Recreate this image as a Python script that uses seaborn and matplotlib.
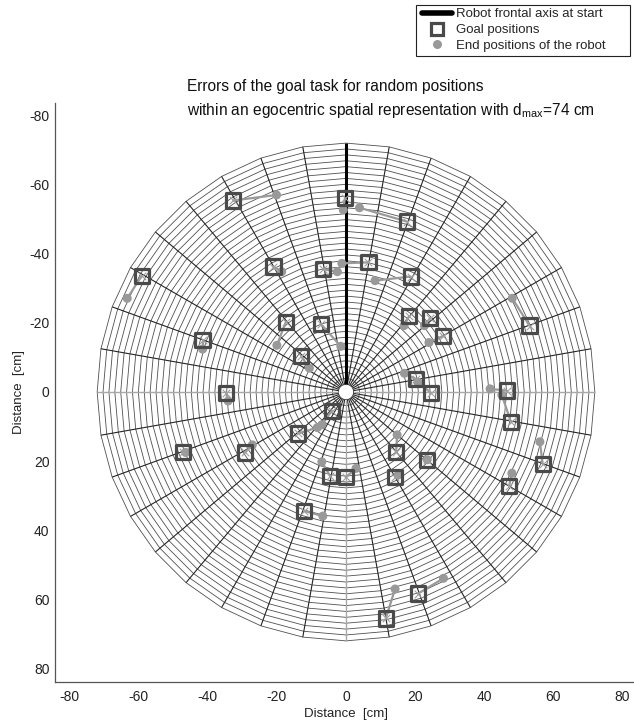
import numpy as np
import pandas as pd
import matplotlib
matplotlib.use("Agg")
import matplotlib.pyplot as plt
import seaborn as sns
from matplotlib.lines import Line2D
from matplotlib.patches import Rectangle
from matplotlib.collections import LineCollection

sns.set_theme(style="white")
plt.rcParams["font.family"] = ["Liberation Sans", "DejaVu Sans"]
plt.rcParams["mathtext.fontset"] = "custom"
plt.rcParams["mathtext.rm"] = "Liberation Sans"
plt.rcParams["mathtext.it"] = "Liberation Sans:italic"
plt.rcParams["axes.unicode_minus"] = False

# ---- data (cm) ----
goal_x = [-59.1, -41.5, -34.7, -47.1, -29.2, -13.8, -4.1, -13.0, -17.4, -7.3,
          -21.0, -6.6, 6.5, 18.7, -32.6, -0.3, 17.6, 18.3, 24.3, 28.0,
          53.1, 20.3, 24.5, 46.5, 47.7, 14.5, 23.4, 56.9, 47.2, 14.2,
          -4.6, -0.1, -12.2, 20.9, 11.5]
goal_y = [-33.6, -15.1, 0.2, 17.3, 17.5, 12.0, 5.4, -10.4, -20.3, -19.7,
          -36.3, -35.5, -37.5, -33.4, -55.4, -56.1, -49.3, -22.0, -21.3, -16.2,
          -19.2, -3.7, 0.2, -0.4, 8.6, 17.3, 19.7, 20.8, 27.2, 24.5,
          24.3, 24.7, 34.4, 58.3, 65.5]
end_x = [-63.3, -41.5, -34.1, -46.4, -27.1, -8.3, -7.0, -10.6, -20.0, -1.5,
         -18.6, -2.5, -1.2, 8.4, -20.1, -0.8, 3.9, 16.8, 22.7, 24.0,
         48.1, 16.9, 20.8, 41.7, 45.1, 14.8, 23.5, 56.1, 48.0, 15.1,
         -7.0, 2.9, -6.7, 28.2, 14.2]
end_y = [-27.1, -12.4, 2.6, 17.5, 15.3, 10.3, 9.5, -6.9, -13.5, -13.2,
         -34.8, -34.8, -37.2, -32.2, -57.0, -52.7, -53.3, -19.2, -19.2, -14.3,
         -27.1, -5.4, -2.8, -0.9, 0.9, 12.4, 19.6, 14.4, 23.5, 24.0,
         20.2, 22.1, 35.9, 53.9, 57.0]
x_ticks = [-80, -60, -40, -20, 0, 20, 40, 60, 80]
y_ticks = [-80, -60, -40, -20, 0, 20, 40, 60, 80]
d_max = 74
grid_outer = 72.0
grid_inner = 2.2
n_rings = 42
sector_deg = 10

fig = plt.figure(figsize=(6.34, 7.26), dpi=100)
ax = fig.add_axes([55 / 634, (726 - 682) / 726, 582 / 634, 579 / 726])

# ---- polar grid ----
ang = np.deg2rad(np.arange(0, 360 + sector_deg, sector_deg))
rings = np.linspace(grid_inner, grid_outer, n_rings)
ring_segs = [np.column_stack([r * np.cos(ang), r * np.sin(ang)]) for r in rings[1:]]
ax.add_collection(LineCollection(ring_segs, colors="#505050", linewidths=0.6, zorder=1))
inner = np.linspace(0, 2 * np.pi, 100)
ax.plot(grid_inner * np.cos(inner), grid_inner * np.sin(inner), color="#505050", lw=0.6, zorder=1)
dark, light = [], []
for a in np.arange(0, 360, sector_deg):
    t = np.deg2rad(a)
    seg = [(grid_inner * np.cos(t), grid_inner * np.sin(t)), (grid_outer * np.cos(t), grid_outer * np.sin(t))]
    (light if a % 90 == 0 else dark).append(seg)
ax.add_collection(LineCollection(dark, colors="#262626", linewidths=0.8, zorder=1.2))
ax.add_collection(LineCollection(light, colors="#a8a8a8", linewidths=1.0, zorder=1.3))

# robot frontal axis
ax.plot([0, 0], [-grid_inner, -grid_outer], color="black", lw=2.2, zorder=2, solid_capstyle="butt")

# ---- error lines, end positions, goals ----
n = len(goal_x)
df_lines = pd.DataFrame({
    "trial": np.repeat(np.arange(n), 2),
    "x": np.ravel(np.column_stack([goal_x, end_x])),
    "y": np.ravel(np.column_stack([goal_y, end_y])),
})
sns.lineplot(data=df_lines, x="x", y="y", units="trial", estimator=None, sort=False,
             color="#9a9a9a", lw=1.6, ax=ax, legend=False, zorder=3)
sns.scatterplot(x=end_x, y=end_y, color="#999999", s=42, edgecolor="none", ax=ax, zorder=4)
sns.scatterplot(x=goal_x, y=goal_y, marker="x", s=30, color="#a0a0a0", linewidth=0.8,
                ax=ax, zorder=4.5)
sns.scatterplot(x=goal_x, y=goal_y, marker="s", s=105, facecolor="none",
                edgecolor="#4a4a4a", linewidth=2.3, ax=ax, zorder=5)

ax.set_xlim(-84.2, 84.2)
ax.set_ylim(83.9, -83.6)
ax.set_xticks(x_ticks)
ax.set_yticks(y_ticks)
ax.tick_params(direction="in", length=4, width=0.8, color="#444444", labelsize=10,
               labelcolor="#222222", pad=4)
ax.tick_params(axis="x", pad=6)
for s in ["top", "right"]:
    ax.spines[s].set_visible(False)
for s in ["left", "bottom"]:
    ax.spines[s].set_color("#555555")
    ax.spines[s].set_linewidth(0.9)
ax.set_xlabel("Distance  [cm]", fontsize=9.5, color="#222222", labelpad=3)
ax.set_ylabel("Distance  [cm]", fontsize=9.5, color="#222222", labelpad=3)

fig.text(187 / 634, 1 - 86 / 726, "Errors of the goal task for random positions",
         ha="left", va="center", fontsize=11.2, color="#111111")
fig.text(187 / 634, 1 - 110 / 726,
         r"within an egocentric spatial representation with d$_{\mathrm{max}}$=%d cm" % d_max,
         ha="left", va="center", fontsize=11.2, color="#111111")

handles = [
    Line2D([], [], color="black", lw=4),
    Line2D([], [], marker="s", ls="none", markersize=9, markerfacecolor="white",
           markeredgecolor="#4a4a4a", markeredgewidth=2.3),
    Line2D([], [], marker="o", ls="none", markersize=6.5, markerfacecolor="#999999",
           markeredgecolor="none"),
]
labels = ["Robot frontal axis at start", "Goal positions", "End positions of the robot"]
leg = fig.legend(handles, labels, loc="upper left", bbox_to_anchor=(422 / 634, 1 - 8 / 726),
                 frameon=False, fontsize=9.5, borderpad=0,
                 handlelength=2.27, handletextpad=0.3, labelspacing=0.28, borderaxespad=0)
fig.patches.append(Rectangle((416 / 634, 1 - 56 / 726), (630 - 416) / 634, 51 / 726,
                             transform=fig.transFigure, facecolor="none",
                             edgecolor="#222222", linewidth=0.8))

fig.savefig("out.png", dpi=100)
